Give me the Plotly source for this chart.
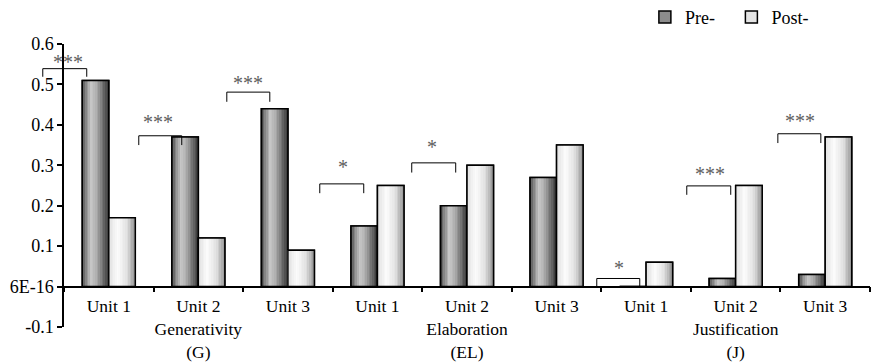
import plotly.graph_objects as go

# ---------------- data ----------------
categories = ["G-U1", "G-U2", "G-U3", "EL-U1", "EL-U2", "EL-U3", "J-U1", "J-U2", "J-U3"]
tick_labels = ["Unit 1", "Unit 2<br>Generativity<br>(G)", "Unit 3",
               "Unit 1", "Unit 2<br>Elaboration<br>(EL)", "Unit 3",
               "Unit 1", "Unit 2<br>Justification<br>(J)", "Unit 3"]
pre_values = [0.51, 0.37, 0.44, 0.15, 0.20, 0.27, 0.0, 0.02, 0.03]
post_values = [0.17, 0.12, 0.09, 0.25, 0.30, 0.35, 0.06, 0.25, 0.37]
series_names = ["Pre-", "Post-"]

y_tick_values = [-0.1, 0.0, 0.1, 0.2, 0.3, 0.4, 0.5, 0.6]
y_tick_labels = ["-0.1", "6E-16", "0.1", "0.2", "0.3", "0.4", "0.5", "0.6"]

# significance brackets (category-index positions, data heights)
sig_labels = ["***", "***", "***", "*", "*", "*", "***", "***"]
sig_x0 = [-0.737, 0.335, 1.318, 2.356, 3.383, 5.449, 6.454, 7.471]
sig_x1 = [-0.246, 0.815, 1.798, 2.847, 3.874, 5.929, 6.945, 7.951]
sig_top = [0.539, 0.373, 0.481, 0.254, 0.306, 0.020, 0.249, 0.378]
sig_leg = [0.519, 0.350, 0.457, 0.231, 0.282, -0.002, 0.227, 0.355]
sig_text_x = [-0.458, 0.547, 1.552, 2.613, 3.607, 5.694, 6.710, 7.716]
sig_text_y = [0.563, 0.415, 0.511, 0.304, 0.353, 0.053, 0.286, 0.418]

# ---------------- style ----------------
FONT = "Liberation Serif"
BAR_W = 0.296
N_STRIPS = 16
pre_stops = [(0.0, 55), (0.12, 120), (0.35, 200), (0.55, 175), (0.8, 110), (1.0, 55)]
post_stops = [(0.0, 222), (0.35, 252), (0.7, 225), (1.0, 150)]
pre_mean = "#8c8c8c"
post_mean = "#e4e4e4"


def grey_at(stops, t):
    for (t0, g0), (t1, g1) in zip(stops[:-1], stops[1:]):
        if t0 <= t <= t1:
            g = g0 + (g1 - g0) * (t - t0) / (t1 - t0)
            g = int(round(g))
            return f"rgb({g},{g},{g})"
    g = stops[-1][1]
    return f"rgb({g},{g},{g})"


fig = go.Figure()

series = [(pre_values, -BAR_W, pre_stops, pre_mean, series_names[0]),
          (post_values, 0.0, post_stops, post_mean, series_names[1])]

for vals, off, stops, mean, name in series:
    # base bar (carries the legend)
    fig.add_trace(go.Bar(x=categories, y=vals, offset=off, width=BAR_W, name=name,
                         marker=dict(color=mean, line=dict(color="black", width=1.5)),
                         legendgroup=name, hoverinfo="skip"))
    # gradient strips
    sw = BAR_W / N_STRIPS
    for k in range(N_STRIPS):
        t = (k + 0.5) / N_STRIPS
        fig.add_trace(go.Bar(x=categories, y=vals, offset=off + k * sw, width=sw * 1.05,
                             marker=dict(color=grey_at(stops, t), line=dict(width=0)),
                             showlegend=False, legendgroup=name, hoverinfo="skip"))
    # outline on top
    fig.add_trace(go.Bar(x=categories, y=vals, offset=off, width=BAR_W,
                         marker=dict(color="rgba(0,0,0,0)", line=dict(color="black", width=1.5)),
                         showlegend=False, legendgroup=name, hoverinfo="skip"))

n_cat = len(categories)


def to_paper(idx):
    return (idx + 0.5) / n_cat


shapes = []
annotations = []
for lab, x0, x1, yt, yl, tx, ty in zip(sig_labels, sig_x0, sig_x1, sig_top, sig_leg, sig_text_x, sig_text_y):
    p0, p1 = to_paper(x0), to_paper(x1)
    line = dict(color="black", width=1)
    shapes.append(dict(type="line", xref="paper", yref="y", x0=p0, x1=p1, y0=yt, y1=yt, line=line))
    shapes.append(dict(type="line", xref="paper", yref="y", x0=p0, x1=p0, y0=yl, y1=yt, line=line))
    shapes.append(dict(type="line", xref="paper", yref="y", x0=p1, x1=p1, y0=yl, y1=yt, line=line))
    annotations.append(dict(x=tx, y=ty, xref="x", yref="y", text=lab, showarrow=False,
                            yanchor="middle", xanchor="center", yshift=-3,
                            font=dict(family=FONT, size=20, color="#5e5e5e")))

y_min, y_max = -0.1, 0.6
fig.update_layout(
    width=871, height=363,
    margin=dict(l=64, r=1, t=44, b=36, autoexpand=False),
    paper_bgcolor="white", plot_bgcolor="white",
    barmode="overlay",
    font=dict(family=FONT, size=18, color="black"),
    shapes=shapes,
    annotations=annotations,
    legend=dict(orientation="h", x=0.7207, xanchor="left", y=1.16, yanchor="top",
                font=dict(family=FONT, size=18, color="black"),
                entrywidth=41.5, entrywidthmode="pixels", itemwidth=30,
                bgcolor="rgba(0,0,0,0)", traceorder="normal"),
    xaxis=dict(type="category", categoryorder="array", categoryarray=categories,
               range=[-0.5, n_cat - 0.5], anchor="free", position=(0 - y_min) / (y_max - y_min),
               automargin=False, tickangle=0, ticklabelstandoff=4,
               showline=True, linecolor="black", linewidth=1.5,
               ticks="outside", ticklen=5, tickcolor="black", tickwidth=1.5,
               tickson="boundaries", tickmode="array", tickvals=categories, ticktext=tick_labels,
               tickfont=dict(family=FONT, size=17.5, color="black"),
               showgrid=False, zeroline=False),
    yaxis=dict(range=[y_min, y_max], tickmode="array", tickvals=y_tick_values, ticktext=y_tick_labels,
               automargin=False,
               showline=True, linecolor="black", linewidth=1.5,
               ticks="outside", ticklen=5, tickcolor="black", tickwidth=1.5,
               tickfont=dict(family=FONT, size=18, color="black"),
               showgrid=False, zeroline=False),
)

fig.write_html("out.html", config={"displayModeBar": False},
               post_script="document.body.style.margin='0px';")
